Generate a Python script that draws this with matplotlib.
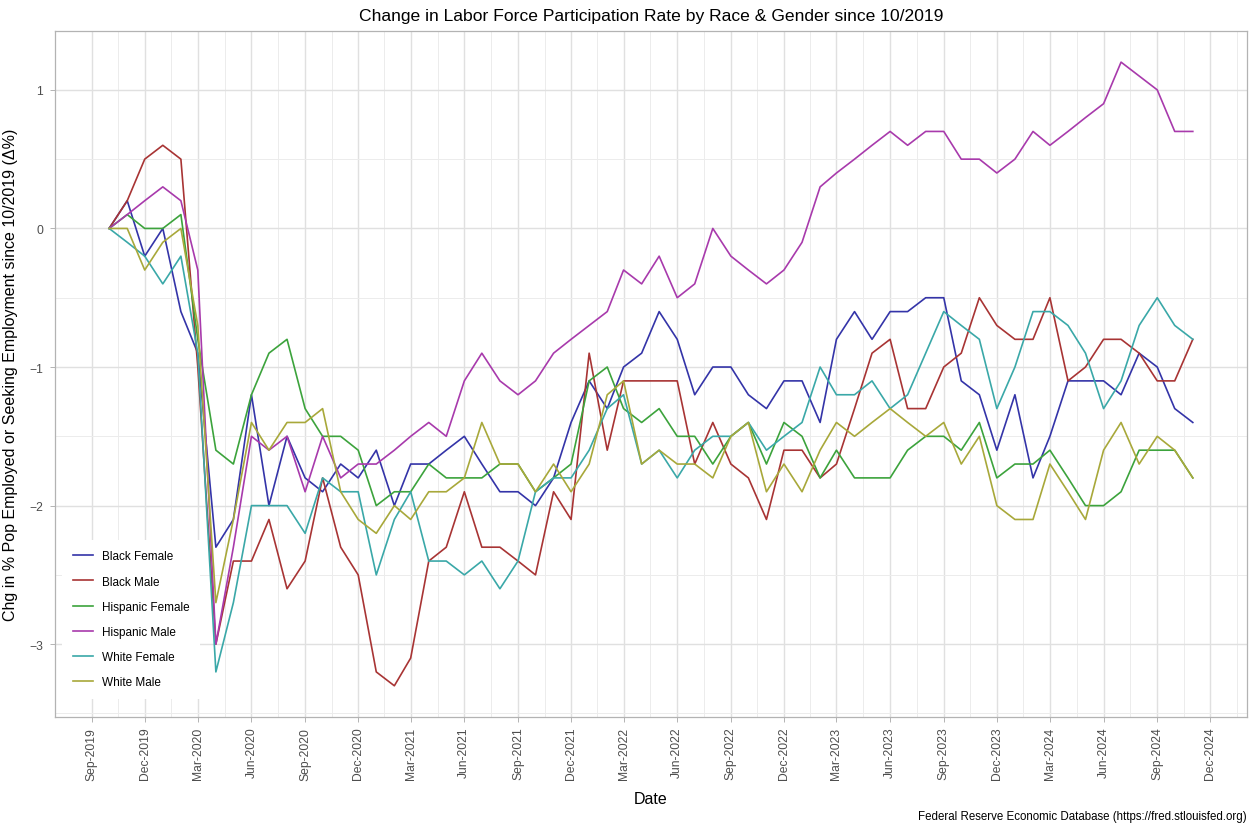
import matplotlib
matplotlib.use("Agg")
import matplotlib.pyplot as plt
import matplotlib.dates as mdates
import pandas as pd

plt.rcParams['font.family'] = ['Liberation Sans', 'DejaVu Sans']

# monthly change in LFPR since 10/2019, Oct-2019 .. Nov-2024
dates = pd.date_range('2019-10-01', periods=62, freq='MS')

black_female = [0, 0.2, -0.2, 0, -0.6, -0.9, -2.3, -2.1, -1.2, -2.0,
                -1.5, -1.8, -1.9, -1.7, -1.8, -1.6, -2.0, -1.7, -1.7, -1.6,
                -1.5, -1.7, -1.9, -1.9, -2.0, -1.8, -1.4, -1.1, -1.3, -1.0,
                -0.9, -0.6, -0.8, -1.2, -1.0, -1.0, -1.2, -1.3, -1.1, -1.1,
                -1.4, -0.8, -0.6, -0.8, -0.6, -0.6, -0.5, -0.5, -1.1, -1.2,
                -1.6, -1.2, -1.8, -1.5, -1.1, -1.1, -1.1, -1.2, -0.9, -1.0,
                -1.3, -1.4]
black_male = [0, 0.2, 0.5, 0.6, 0.5, -1.0, -3.0, -2.4, -2.4, -2.1,
              -2.6, -2.4, -1.8, -2.3, -2.5, -3.2, -3.3, -3.1, -2.4, -2.3,
              -1.9, -2.3, -2.3, -2.4, -2.5, -1.9, -2.1, -0.9, -1.6, -1.1,
              -1.1, -1.1, -1.1, -1.7, -1.4, -1.7, -1.8, -2.1, -1.6, -1.6,
              -1.8, -1.7, -1.3, -0.9, -0.8, -1.3, -1.3, -1.0, -0.9, -0.5,
              -0.7, -0.8, -0.8, -0.5, -1.1, -1.0, -0.8, -0.8, -0.9, -1.1,
              -1.1, -0.8]
hispanic_female = [0, 0.1, 0.0, 0.0, 0.1, -0.8, -1.6, -1.7, -1.2, -0.9,
                   -0.8, -1.3, -1.5, -1.5, -1.6, -2.0, -1.9, -1.9, -1.7, -1.8,
                   -1.8, -1.8, -1.7, -1.7, -1.9, -1.8, -1.7, -1.1, -1.0, -1.3,
                   -1.4, -1.3, -1.5, -1.5, -1.7, -1.5, -1.4, -1.7, -1.4, -1.5,
                   -1.8, -1.6, -1.8, -1.8, -1.8, -1.6, -1.5, -1.5, -1.6, -1.4,
                   -1.8, -1.7, -1.7, -1.6, -1.8, -2.0, -2.0, -1.9, -1.6, -1.6,
                   -1.6, -1.8]
hispanic_male = [0, 0.1, 0.2, 0.3, 0.2, -0.3, -3.0, -2.3, -1.5, -1.6,
                 -1.5, -1.9, -1.5, -1.8, -1.7, -1.7, -1.6, -1.5, -1.4, -1.5,
                 -1.1, -0.9, -1.1, -1.2, -1.1, -0.9, -0.8, -0.7, -0.6, -0.3,
                 -0.4, -0.2, -0.5, -0.4, 0.0, -0.2, -0.3, -0.4, -0.3, -0.1,
                 0.3, 0.4, 0.5, 0.6, 0.7, 0.6, 0.7, 0.7, 0.5, 0.5,
                 0.4, 0.5, 0.7, 0.6, 0.7, 0.8, 0.9, 1.2, 1.1, 1.0,
                 0.7, 0.7]
white_female = [0, -0.1, -0.2, -0.4, -0.2, -0.9, -3.2, -2.7, -2.0, -2.0,
                -2.0, -2.2, -1.8, -1.9, -1.9, -2.5, -2.1, -1.9, -2.4, -2.4,
                -2.5, -2.4, -2.6, -2.4, -1.9, -1.8, -1.8, -1.6, -1.3, -1.2,
                -1.7, -1.6, -1.8, -1.6, -1.5, -1.5, -1.4, -1.6, -1.5, -1.4,
                -1.0, -1.2, -1.2, -1.1, -1.3, -1.2, -0.9, -0.6, -0.7, -0.8,
                -1.3, -1.0, -0.6, -0.6, -0.7, -0.9, -1.3, -1.1, -0.7, -0.5,
                -0.7, -0.8]
white_male = [0, 0.0, -0.3, -0.1, 0.0, -0.7, -2.7, -2.1, -1.4, -1.6,
              -1.4, -1.4, -1.3, -1.9, -2.1, -2.2, -2.0, -2.1, -1.9, -1.9,
              -1.8, -1.4, -1.7, -1.7, -1.9, -1.7, -1.9, -1.7, -1.2, -1.1,
              -1.7, -1.6, -1.7, -1.7, -1.8, -1.5, -1.4, -1.9, -1.7, -1.9,
              -1.6, -1.4, -1.5, -1.4, -1.3, -1.4, -1.5, -1.4, -1.7, -1.5,
              -2.0, -2.1, -2.1, -1.7, -1.9, -2.1, -1.6, -1.4, -1.7, -1.5,
              -1.6, -1.8]

series = {
    'Black Female': (black_female, '#3434a8'),
    'Black Male': (black_male, '#a83434'),
    'Hispanic Female': (hispanic_female, '#3ca33c'),
    'Hispanic Male': (hispanic_male, '#a83aac'),
    'White Female': (white_female, '#3aa8a8'),
    'White Male': (white_male, '#a8a83a'),
}

fig = plt.figure(figsize=(12.52, 8.28), dpi=100)
ax = fig.add_axes([0.0439, 0.1329, 0.9521, 0.8285])

for name, (vals, col) in series.items():
    ax.plot(dates, vals, color=col, linewidth=1.2, label=name)

# ggplot-like expansion of 5%
span = dates[-1] - dates[0]
ax.set_xlim(dates[0] - span * 0.05, dates[-1] + span * 0.05)
lo = min(min(v) for v, _ in series.values())
hi = max(max(v) for v, _ in series.values())
pad = (hi - lo) * 0.05
ax.set_ylim(lo - pad, hi + pad)

majors = pd.date_range('2019-09-01', '2024-12-01', freq='3MS')
ext = pd.date_range('2019-09-01', '2025-03-01', freq='3MS')
minors = [ext[i] + (ext[i + 1] - ext[i]) / 2 for i in range(len(ext) - 1)]
ax.set_xticks(majors)
ax.set_xticks(minors, minor=True)
ax.xaxis.set_major_formatter(mdates.DateFormatter('%b-%Y'))
ax.set_yticks([-3, -2, -1, 0, 1])
ax.set_yticks([-3.5, -2.5, -1.5, -0.5, 0.5], minor=True)

ax.grid(True, which='major', color='#e0e0e0', linewidth=1.0)
ax.grid(True, which='minor', color='#ececec', linewidth=0.7)
ax.set_axisbelow(True)
for s in ax.spines.values():
    s.set_color('#b3b3b3')
    s.set_linewidth(0.9)

ax.tick_params(axis='both', which='major', color='#b3b3b3', length=3.5,
               width=0.7, labelsize=8.7, labelcolor='#4d4d4d')
ax.tick_params(axis='y', which='major', pad=5)
ax.tick_params(axis='both', which='minor', length=0)
plt.setp(ax.get_xticklabels(), rotation=90)

ax.set_title('Change in Labor Force Participation Rate by Race & Gender since 10/2019',
             fontsize=12.6, pad=8)
ax.set_xlabel('Date', fontsize=11.5, labelpad=8)
ax.set_ylabel('Chg in % Pop Employed or Seeking Employment since 10/2019 (\u0394%)',
              fontsize=11.5, labelpad=8)

leg = ax.legend(loc='lower left', bbox_to_anchor=(0.006, 0.026), borderaxespad=0,
                frameon=True, fancybox=False, framealpha=1, edgecolor='none',
                fontsize=8.5, handlelength=1.7, handletextpad=0.75,
                labelspacing=1.12, borderpad=0.9)
leg.get_frame().set_facecolor('white')

fig.text(0.996, 0.0135, 'Federal Reserve Economic Database (https://fred.stlouisfed.org)',
         ha='right', va='center', fontsize=8.3)

fig.savefig('out.png', dpi=100)
